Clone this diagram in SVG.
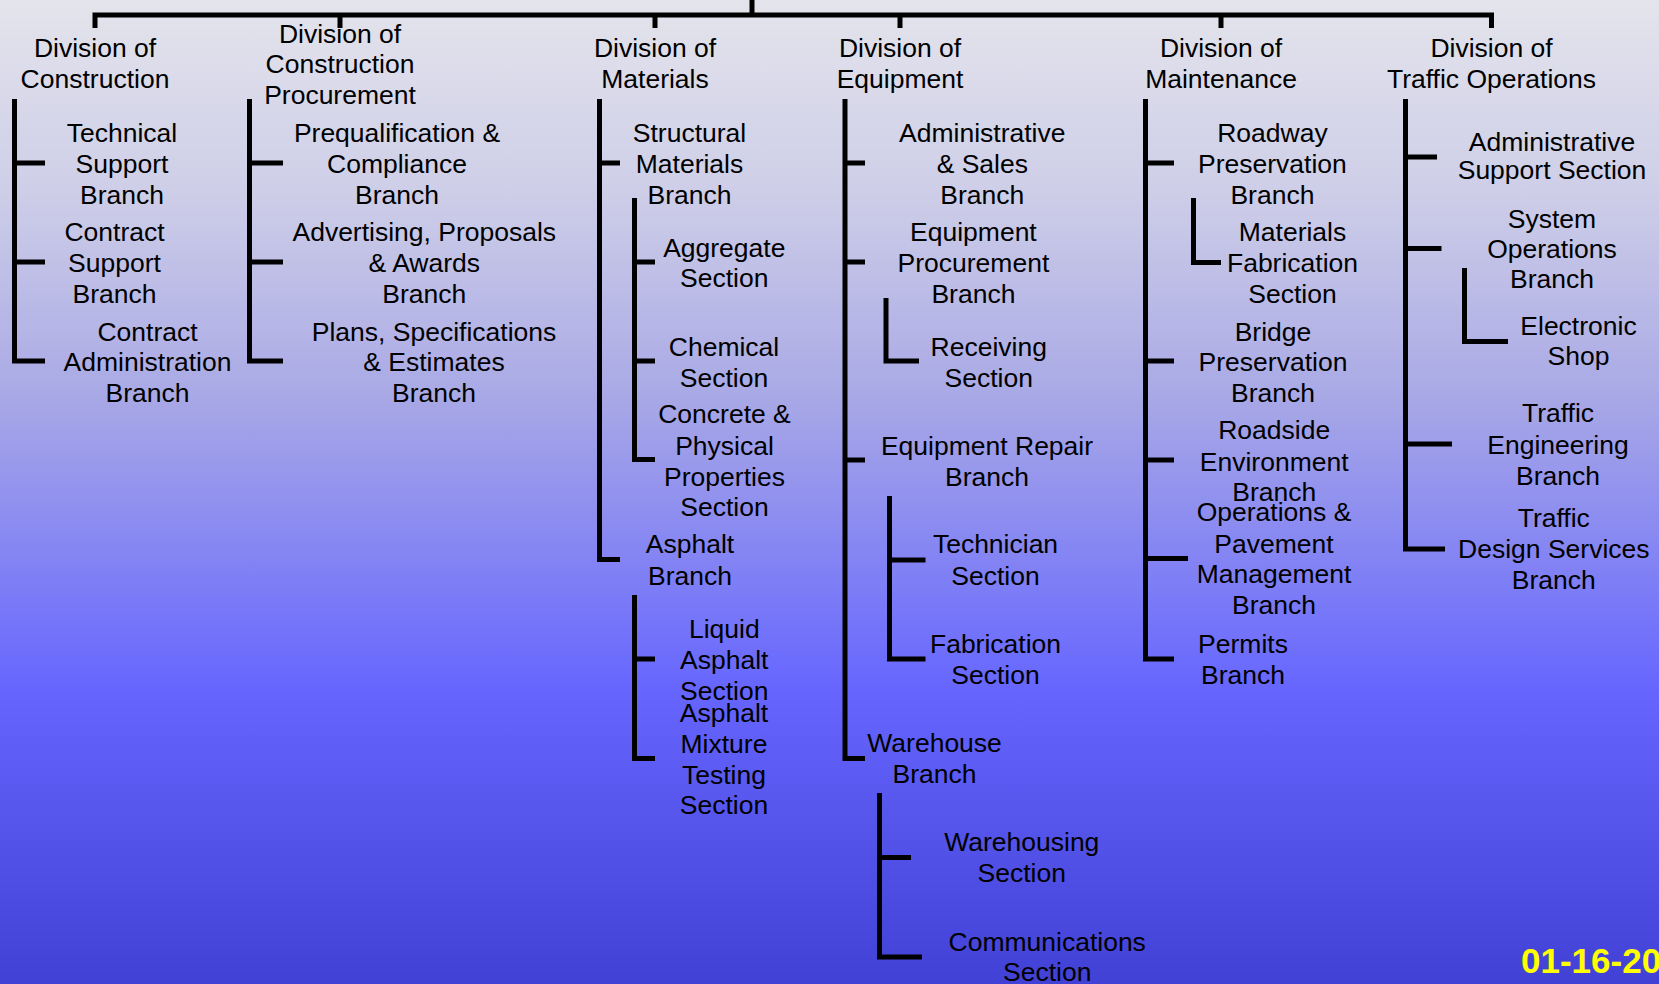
<svg xmlns="http://www.w3.org/2000/svg" width="1659" height="984" viewBox="0 0 1659 984">
<defs>
<linearGradient id="bg" x1="0" y1="0" x2="0" y2="1">
<stop offset="0" stop-color="#E4E4EC"/>
<stop offset="0.2" stop-color="#CDCDE8"/>
<stop offset="0.4" stop-color="#A9A9E6"/>
<stop offset="0.7" stop-color="#6666FF"/>
<stop offset="1" stop-color="#4141D6"/>
</linearGradient>
<style>
text{font-family:"Liberation Sans",Arial,sans-serif;font-size:26.5px;fill:#000;text-anchor:middle}
.c{fill:none;stroke:#000;stroke-width:5;stroke-linejoin:miter;stroke-linecap:butt}
.date{font-weight:bold;font-size:35px;fill:#FFFF00;text-anchor:start}
</style>
</defs>
<rect x="0" y="0" width="1659" height="984" fill="url(#bg)"/>
<g id="connectors" class="c">
<path d="M752,0 V15"/>
<path d="M95,28 V15 H1491.5 V28"/>
<path d="M340,15 V28 M655,15 V28 M900,15 V28 M1221,15 V28"/>
<path d="M14.5,99 V361 H45 M14.5,163 H45 M14.5,262 H45"/>
<path d="M249.5,99 V361 H283 M249.5,163 H283 M249.5,262 H283"/>
<path d="M599.5,99 V559.5 H620 M599.5,163 H620"/>
<path d="M634.5,198 V459.5 H655 M634.5,262 H655 M634.5,361 H655"/>
<path d="M634.5,595 V758.5 H655 M634.5,659 H655"/>
<path d="M845,99 V758.5 H865 M845,163 H865 M845,262 H865 M845,460 H865"/>
<path d="M886,298 V361 H919"/>
<path d="M889.5,496 V659 H925.5 M889.5,560 H925.5"/>
<path d="M879.5,793 V957 H922 M879.5,857.5 H911"/>
<path d="M1145.5,99 V659 H1174 M1145.5,163 H1174 M1145.5,361 H1174 M1145.5,460 H1174 M1145.5,558.5 H1188"/>
<path d="M1193.5,198 V262.5 H1221"/>
<path d="M1405.5,99 V549 H1445 M1405.5,157 H1437 M1405.5,248.5 H1441.5 M1405.5,444 H1452"/>
<path d="M1464.5,268 V341.5 H1508"/>
</g>
<g id="div-construction"><text x="95" y="57.3">Division of<tspan x="95" y="88.3">Construction</tspan></text></g>
<g id="div-construction-procurement"><text x="340" y="42.7">Division of<tspan x="340" y="73.3">Construction</tspan><tspan x="340" y="103.6">Procurement</tspan></text></g>
<g id="div-materials"><text x="655" y="57.3">Division of<tspan x="655" y="88.3">Materials</tspan></text></g>
<g id="div-equipment"><text x="900" y="57.3">Division of<tspan x="900" y="88.3">Equipment</tspan></text></g>
<g id="div-maintenance"><text x="1221" y="57.3">Division of<tspan x="1221" y="88.3">Maintenance</tspan></text></g>
<g id="div-traffic"><text x="1491.5" y="57.3">Division of<tspan x="1491.5" y="88.3">Traffic Operations</tspan></text></g>

<g id="technical-support"><text x="122" y="142">Technical<tspan x="122" y="173">Support</tspan><tspan x="122" y="203.5">Branch</tspan></text></g>
<g id="contract-support"><text x="114.5" y="241">Contract<tspan x="114.5" y="272">Support</tspan><tspan x="114.5" y="303">Branch</tspan></text></g>
<g id="contract-admin"><text x="147.5" y="341">Contract<tspan x="147.5" y="371">Administration</tspan><tspan x="147.5" y="402">Branch</tspan></text></g>

<g id="prequalification"><text x="397" y="142">Prequalification &amp;<tspan x="397" y="173">Compliance</tspan><tspan x="397" y="203.5">Branch</tspan></text></g>
<g id="advertising"><text x="424.3" y="241">Advertising, Proposals<tspan x="424.3" y="272">&amp; Awards</tspan><tspan x="424.3" y="303">Branch</tspan></text></g>
<g id="plans"><text x="434" y="341">Plans, Specifications<tspan x="434" y="371">&amp; Estimates</tspan><tspan x="434" y="402">Branch</tspan></text></g>

<g id="structural"><text x="689.5" y="142">Structural<tspan x="689.5" y="173">Materials</tspan><tspan x="689.5" y="203.5">Branch</tspan></text></g>
<g id="aggregate"><text x="724.3" y="256.7">Aggregate<tspan x="724.3" y="287.3">Section</tspan></text></g>
<g id="chemical"><text x="724" y="356">Chemical<tspan x="724" y="386.7">Section</tspan></text></g>
<g id="concrete"><text x="724.5" y="423">Concrete &amp;<tspan x="724.5" y="454.5">Physical</tspan><tspan x="724.5" y="485.5">Properties</tspan><tspan x="724.5" y="516.2">Section</tspan></text></g>
<g id="asphalt"><text x="690" y="553.4">Asphalt<tspan x="690" y="585">Branch</tspan></text></g>
<g id="liquid-asphalt"><text x="724.3" y="637.6">Liquid<tspan x="724.3" y="669">Asphalt</tspan><tspan x="724.3" y="700">Section</tspan></text></g>
<g id="asphalt-mixture"><text x="724" y="722.2">Asphalt<tspan x="724" y="753">Mixture</tspan><tspan x="724" y="783.6">Testing</tspan><tspan x="724" y="814.2">Section</tspan></text></g>

<g id="admin-sales"><text x="982.3" y="142">Administrative<tspan x="982.3" y="173">&amp; Sales</tspan><tspan x="982.3" y="203.5">Branch</tspan></text></g>
<g id="equip-procurement"><text x="973.4" y="241">Equipment<tspan x="973.4" y="272">Procurement</tspan><tspan x="973.4" y="303">Branch</tspan></text></g>
<g id="receiving"><text x="988.8" y="356">Receiving<tspan x="988.8" y="386.7">Section</tspan></text></g>
<g id="equip-repair"><text x="987" y="455">Equipment Repair<tspan x="987" y="485.7">Branch</tspan></text></g>
<g id="technician"><text x="995.5" y="553.4">Technician<tspan x="995.5" y="585">Section</tspan></text></g>
<g id="fabrication"><text x="995.5" y="652.5">Fabrication<tspan x="995.5" y="683.8">Section</tspan></text></g>
<g id="warehouse"><text x="934.6" y="752">Warehouse<tspan x="934.6" y="783">Branch</tspan></text></g>
<g id="warehousing"><text x="1021.8" y="851.4">Warehousing<tspan x="1021.8" y="882.3">Section</tspan></text></g>
<g id="communications"><text x="1047.2" y="950.5">Communications<tspan x="1047.2" y="981">Section</tspan></text></g>

<g id="roadway"><text x="1272.4" y="142">Roadway<tspan x="1272.4" y="173">Preservation</tspan><tspan x="1272.4" y="203.5">Branch</tspan></text></g>
<g id="materials-fabrication"><text x="1292.5" y="241">Materials<tspan x="1292.5" y="272">Fabrication</tspan><tspan x="1292.5" y="303">Section</tspan></text></g>
<g id="bridge"><text x="1273" y="341">Bridge<tspan x="1273" y="371">Preservation</tspan><tspan x="1273" y="402">Branch</tspan></text></g>
<g id="roadside"><text x="1274.2" y="439">Roadside<tspan x="1274.2" y="470.8">Environment</tspan><tspan x="1274.2" y="500.6">Branch</tspan></text></g>
<g id="operations-pavement"><text x="1274" y="521">Operations &amp;<tspan x="1274" y="552.7">Pavement</tspan><tspan x="1274" y="582.5">Management</tspan><tspan x="1274" y="614.2">Branch</tspan></text></g>
<g id="permits"><text x="1243" y="652.5">Permits<tspan x="1243" y="683.8">Branch</tspan></text></g>

<g id="admin-support"><text x="1552" y="150.7">Administrative<tspan x="1552" y="179">Support Section</tspan></text></g>
<g id="system-operations"><text x="1552" y="228.3">System<tspan x="1552" y="258.3">Operations</tspan><tspan x="1552" y="288.3">Branch</tspan></text></g>
<g id="electronic-shop"><text x="1578.5" y="335">Electronic<tspan x="1578.5" y="365">Shop</tspan></text></g>
<g id="traffic-engineering"><text x="1558" y="422.3">Traffic<tspan x="1558" y="454">Engineering</tspan><tspan x="1558" y="485">Branch</tspan></text></g>
<g id="traffic-design"><text x="1553.8" y="527.4">Traffic<tspan x="1553.8" y="558.3">Design Services</tspan><tspan x="1553.8" y="588.8">Branch</tspan></text></g>

<text class="date" x="1521" y="972.8">01-16-20</text>
</svg>
